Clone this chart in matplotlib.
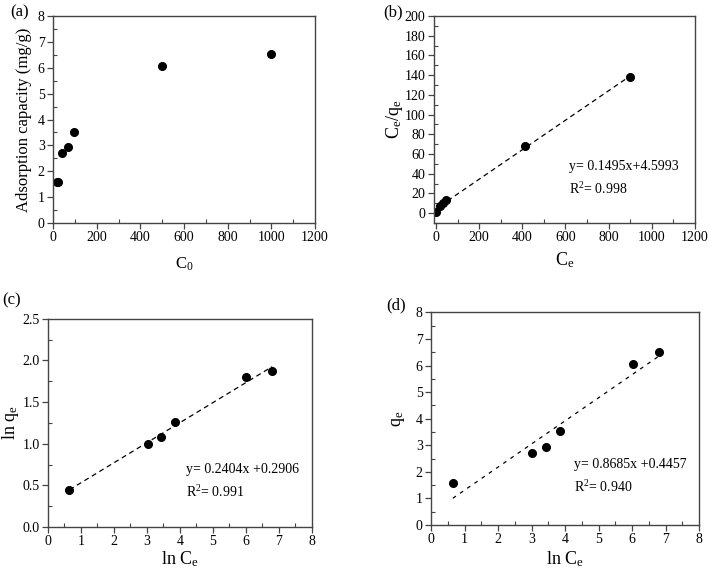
import numpy as np
import matplotlib.pyplot as plt
from matplotlib.ticker import MultipleLocator

plt.rcParams['font.family'] = ['Liberation Serif', 'DejaVu Serif']
plt.rcParams['mathtext.fontset'] = 'custom'
plt.rcParams['mathtext.rm'] = 'Liberation Serif'
plt.rcParams['mathtext.it'] = 'Liberation Serif'

# (a) adsorption capacity vs initial concentration
c0 = [18, 22, 41, 69, 95, 500, 1000]
qa = [1.58, 1.58, 2.70, 2.95, 3.52, 6.07, 6.52]

# (b) Langmuir
ce = [1.9, 20.5, 31, 47, 412, 900]
ce_qe = [1.2, 7.6, 10.5, 13.4, 68.0, 138.5]
fit_b = (0.1495, 4.5993)

# (c) Freundlich
ln_ce = [0.65, 3.02, 3.43, 3.85, 6.02, 6.80]
ln_qe = [0.45, 1.00, 1.08, 1.26, 1.80, 1.87]
fit_c = (0.2404, 0.2906)

# (d) Temkin
qe = [1.58, 2.70, 2.95, 3.52, 6.07, 6.52]
fit_d = (0.8685, 0.4457)

fig = plt.figure(figsize=(7.09, 5.72), dpi=100)
ax_a = fig.add_axes([0.0748, 0.610, 0.3695, 0.362])
ax_b = fig.add_axes([0.612, 0.610, 0.368, 0.362])
ax_c = fig.add_axes([0.0677, 0.0787, 0.372, 0.364])
ax_d = fig.add_axes([0.608, 0.082, 0.378, 0.372])


def style(ax, xmaj, xmin, ymaj, ymin):
    for s in ax.spines.values():
        s.set_color('#444444')
        s.set_linewidth(1.0)
    ax.xaxis.set_major_locator(MultipleLocator(xmaj))
    ax.xaxis.set_minor_locator(MultipleLocator(xmin))
    ax.yaxis.set_major_locator(MultipleLocator(ymaj))
    ax.yaxis.set_minor_locator(MultipleLocator(ymin))
    ax.tick_params(which='major', direction='out', length=4, width=0.9,
                   color='#444444', labelsize=10, pad=2)
    ax.tick_params(which='minor', direction='in', length=3, width=0.8,
                   color='#444444')
    ax.tick_params(top=False, right=False, which='both')


mk = dict(marker='o', ms=5.5, color='black', ls='none')
dash = dict(color='black', lw=0.9, ls=(0, (4, 3)))

# (a)
ax_a.plot(c0, qa, **mk)
ax_a.set_xlim(0, 1200)
ax_a.set_ylim(0, 8)
style(ax_a, 200, 100, 1, 0.5)
ax_a.set_xlabel(r'C$_0$', fontsize=12, labelpad=8)
ax_a.set_ylabel('Adsorption capacity (mg/g)', fontsize=12, labelpad=4)

# (b)
xb = np.array([20, 900])
ax_b.plot(xb, fit_b[0] * xb + fit_b[1], **dash)
ax_b.plot(ce, ce_qe, **mk)
ax_b.set_xlim(-10, 1200)
ax_b.set_ylim(-10, 200)
style(ax_b, 200, 100, 20, 10)
ax_b.set_xlabel(r'C$_\mathregular{e}$', fontsize=13, labelpad=4)
ax_b.set_ylabel(r'C$_\mathregular{e}$/q$_\mathregular{e}$', fontsize=13, labelpad=0)
ax_b.text(618, 47, 'y= 0.1495x+4.5993', fontsize=10, va='center')
ax_b.text(618, 25, r'R$^2$= 0.998', fontsize=10, va='center')

# (c)
xc = np.array([0.65, 6.8])
ax_c.plot(xc, fit_c[0] * xc + fit_c[1], **dash)
ax_c.plot(ln_ce, ln_qe, **mk)
ax_c.set_xlim(0, 8)
ax_c.set_ylim(0, 2.5)
style(ax_c, 1, 0.5, 0.5, 0.25)
ax_c.yaxis.set_major_formatter(plt.FormatStrFormatter('%.1f'))
ax_c.set_xlabel(r'ln C$_\mathregular{e}$', fontsize=13, labelpad=1)
ax_c.set_ylabel(r'ln q$_\mathregular{e}$', fontsize=13, labelpad=1)
ax_c.text(4.18, 0.69, 'y= 0.2404x +0.2906', fontsize=10, va='center')
ax_c.text(4.18, 0.42, r'R$^2$= 0.991', fontsize=10, va='center')

# (d)
ax_d.plot(xc, fit_d[0] * xc + fit_d[1], color='black', lw=0.9, ls=(0, (3, 4)))
ax_d.plot(ln_ce, qe, **mk)
ax_d.set_xlim(0, 8)
ax_d.set_ylim(0, 8)
style(ax_d, 1, 0.5, 1, 0.5)
ax_d.set_xlabel(r'ln C$_\mathregular{e}$', fontsize=13, labelpad=2)
ax_d.set_ylabel(r'q$_\mathregular{e}$', fontsize=13, labelpad=6)
ax_d.text(4.28, 2.28, 'y= 0.8685x +0.4457', fontsize=10, va='center')
ax_d.text(4.28, 1.42, r'R$^2$= 0.940', fontsize=10, va='center')

fig.text(10 / 709, 1 - 12 / 572, '(a)', fontsize=12, va='center')
fig.text(383 / 709, 1 - 12 / 572, '(b)', fontsize=12, va='center')
fig.text(2 / 709, 1 - 300 / 572, '(c)', fontsize=12, va='center')
fig.text(386 / 709, 1 - 305 / 572, '(d)', fontsize=12, va='center')

fig.savefig('out.png', dpi=100)
